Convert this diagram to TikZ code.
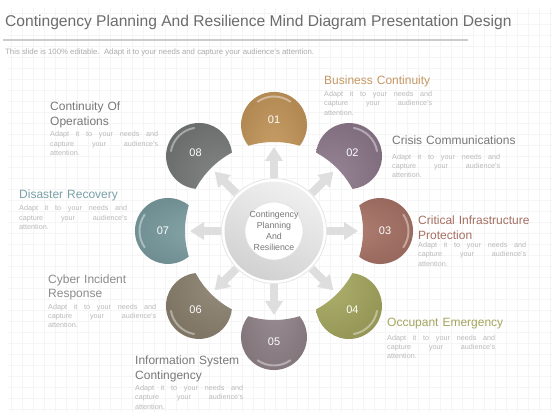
\documentclass[tikz,border=0pt]{standalone}
\usepackage{fontspec}
\setmainfont{Liberation Sans}
\usetikzlibrary{arrows.meta,positioning}

\definecolor{petalA}{RGB}{198,152,92}
\definecolor{petalB}{RGB}{142,122,140}
\definecolor{petalC}{RGB}{170,116,104}
\definecolor{petalD}{RGB}{166,168,96}
\definecolor{petalE}{RGB}{146,132,138}
\definecolor{petalF}{RGB}{140,130,112}
\definecolor{petalG}{RGB}{124,158,162}
\definecolor{petalH}{RGB}{118,122,120}
\definecolor{headTan}{RGB}{196,152,100}
\definecolor{headRed}{RGB}{165,110,98}
\definecolor{headOlive}{RGB}{165,165,95}
\definecolor{headTeal}{RGB}{122,160,168}
\definecolor{headGray}{RGB}{120,120,120}
\definecolor{bodyGray}{RGB}{185,185,185}
\definecolor{titleGray}{RGB}{108,108,108}

\newcommand{\adapttext}{Adapt it to your needs and\linebreak capture your audience's\linebreak attention.}

\begin{document}
\begin{tikzpicture}[x=1pt,y=1pt,
    grid line/.style={draw=gray!8,line width=.4pt},
    heading/.style={anchor=north west,inner sep=0pt,text width=125pt,align=left,
                    text=headGray,font=\fontsize{12}{14.5}\selectfont},
    body/.style={anchor=north west,inner sep=0pt,text width=108pt,align=justify,
                 text=bodyGray,font=\fontsize{7.2}{9.3}\selectfont},
    number/.style={text=white,font=\fontsize{11}{13}\selectfont},
    spoke/.style={draw=gray!26,line width=8pt,-{Triangle[width=17pt,length=14pt]}},
    hub/.style={circle,minimum size=106pt,align=center,text=headGray,
                font=\fontsize{8.8}{11}\selectfont}]

  \useasboundingbox (0,0) rectangle (560,420);
  \fill[white] (0,0) rectangle (560,420);
  \draw[grid line] (8,8) grid[step=11pt] (552,412);

  % title and subtitle
  \node[anchor=north west,inner sep=0pt,text=titleGray,font=\fontsize{15.6}{18}\selectfont]
    (title) at (5,405) {Contingency Planning And Resilience Mind Diagram Presentation Design};
  \draw[gray!40,line width=1.4pt] (3,380) -- (468,380);
  \node[anchor=north west,inner sep=0pt,text=gray!65,font=\fontsize{7.8}{9}\selectfont]
    (subtitle) at (5,371.5) {This slide is 100\% editable.\ \ Adapt it to your needs and capture your audience's attention.};

  % centre ring
  \coordinate (O) at (274,189);
  \fill[white] (O) circle (53);
  \draw[gray!20,line width=.8pt] (O) circle (52.5);
  \shade[shading=axis,top color=gray!12,bottom color=gray!36,shading angle=-25] (O) circle (49.5);
  \fill[white] (O) circle (29);
  \draw[gray!25,line width=.6pt] (O) circle (29);
  \node[hub] (hub) at (O) {Contingency\\Planning\\And\\Resilience};

  % spokes and petals
  \foreach \i/\a/\c in {1/90/petalA,2/45/petalB,3/0/petalC,4/-45/petalD,
                        5/-90/petalE,6/-135/petalF,7/180/petalG,8/135/petalH}{
    \path (O) ++(\a:84) coordinate (t\i);
    \draw[spoke] (hub) -- (t\i);
    \shade[inner color=\c!92!white,outer color=\c!90!black]
      (O) ++(\a-16.7:89) arc[start angle=\a-16.7,end angle=\a+16.7,radius=89]
      arc[start angle=\a+129.05,end angle=\a-129.05,radius=33] -- cycle;
    \draw[white,opacity=.4,line width=2pt,line cap=round]
      (O) ++(\a:106) ++(\a+35:28.5) arc[start angle=\a+35,end angle=\a-35,radius=28.5];
    \path (O) ++(\a:111) node[number] (n\i) {0\i};
  }

  % labels
  \node[heading,text=headTan] (h1) at (324,344.6) {Business Continuity};
  \node[body] (b1) at (324,329) {\adapttext};
  \node[heading] (h2) at (392,284.6) {Crisis Communications};
  \node[body] (b2) at (392,266.3) {\adapttext};
  \node[heading,text=headRed] (h3) at (418,203.9) {Critical Infrastructure\\Protection};
  \node[body] (b3) at (418,178) {\adapttext};
  \node[heading,text=headOlive] (h4) at (387,101.9) {Occupant Emergency};
  \node[body] (b4) at (387,85.3) {\adapttext};
  \node[heading] (h5) at (135,63.9) {Information System\\Contingency};
  \node[body] (b5) at (135,35) {\adapttext};
  \node[heading,text=gray!90] (h6) at (48,145.6) {Cyber Incident\\Response};
  \node[body] (b6) at (48,116.3) {\adapttext};
  \node[heading,text=headTeal] (h7) at (19,230.3) {Disaster Recovery};
  \node[body] (b7) at (19,214.7) {\adapttext};
  \node[heading] (h8) at (50,317.9) {Continuity Of\\Operations};
  \node[body] (b8) at (50,288.7) {\adapttext};
\end{tikzpicture}
\end{document}
